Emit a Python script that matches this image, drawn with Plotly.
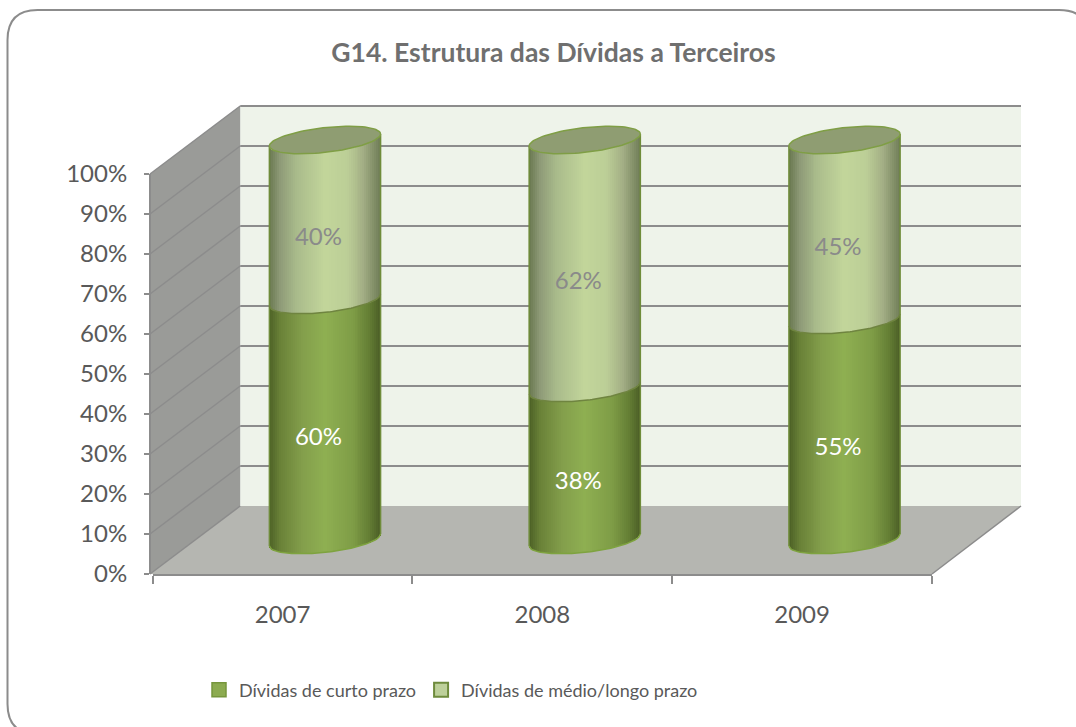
import numpy as np
import plotly.graph_objects as go

years = ["2007", "2008", "2009"]
curto = [60, 38, 55]
medio = [40, 62, 45]
y_ticks = list(range(0, 101, 10))
title = "G14. Estrutura das Dívidas a Terceiros"
name_curto = "Dívidas de curto prazo"
name_medio = "Dívidas de médio/longo prazo"

W, H = 1076, 727
FONT = "Lato"
GREY = "#8c8c8c"
TXT = "#595959"

def px(x): return x / W
def py(y): return 1 - y / H

# front plane / cylinder plane / back wall, in pixels
FX0, FX1, FY0, FY1 = 152.7, 932.0, 574.0, 174.0
DX, DY = 87.5, -68.0          # depth of the box
MX, MY = 42.4, -34.0          # depth of the cylinder centres
CYL_HALF = 55.6 / ((FX1 - FX0) / 3)
ELL_B = 3.1                   # ellipse half height in % units
ELL_K = 1.5                   # ellipse tilt in % units
PAD = 10                      # room round the cylinder axis, in % units
LABEL_DROP = 1.75             # data labels sit below the segment middle, in % units
N = 56


def ramp(t, stops):
    ts = [s[0] for s in stops]
    return "rgb(%d,%d,%d)" % tuple(np.interp(t, ts, [s[1][i] for s in stops]) for i in range(3))


DARK_STOPS = [(0, (76, 96, 38)), (.1, (106, 130, 56)), (.3, (132, 159, 76)), (.5, (143, 176, 82)),
              (.75, (127, 157, 71)), (.9, (101, 127, 53)), (1, (76, 95, 39))]
LIGHT_STOPS = [(0, (105, 120, 80)), (.1, (143, 155, 120)), (.25, (170, 188, 140)), (.5, (195, 214, 155)),
               (.7, (188, 207, 151)), (.85, (163, 174, 133)), (1, (112, 126, 88))]

us = (np.arange(N) + .5) / N * 2 - 1
ts = (us + 1) / 2


def low(u): return ELL_K * u - ELL_B * np.sqrt(np.clip(1 - u * u, 0, 1))


fig = go.Figure()

# category axis and legend entries
fig.add_trace(go.Scatter(x=years, y=[None] * 3, mode="markers", name=name_curto, xaxis="x", yaxis="y",
                         marker=dict(symbol="square", size=14, color="#8cab50", line=dict(color="#76963c", width=1.5))))
fig.add_trace(go.Scatter(x=years, y=[None] * 3, mode="markers", name=name_medio, xaxis="x", yaxis="y",
                         marker=dict(symbol="square", size=14, color="#bdd09a", line=dict(color="#6e8b3c", width=2))))

# cylinders as thin bars
bx, lb, lh, lc, ub, uh, uc = [], [], [], [], [], [], []
for i in range(len(years)):
    for u, t in zip(us, ts):
        bx.append(i + u * CYL_HALF)
        lb.append(float(low(u)))
        lh.append(curto[i])
        lc.append(ramp(t, DARK_STOPS))
        ub.append(curto[i] + float(low(u)))
        uh.append(medio[i])
        uc.append(ramp(t, LIGHT_STOPS))
bw = 2 * CYL_HALF / N * 1.15
fig.add_trace(go.Bar(x=bx, y=lh, base=lb, width=bw, marker=dict(color=lc, line_width=0),
                     xaxis="x2", yaxis="y2", showlegend=False, hoverinfo="skip"))
fig.add_trace(go.Bar(x=bx, y=uh, base=ub, width=bw, marker=dict(color=uc, line_width=0),
                     xaxis="x2", yaxis="y2", showlegend=False, hoverinfo="skip"))

# top ellipses, rims and sides
ang = np.linspace(0, 2 * np.pi, 91)
ex, ey, rx, ry, bnx, bny, sx, sy = [], [], [], [], [], [], [], []
arc = np.linspace(-1, 1, 61)
for i in range(len(years)):
    total = curto[i] + medio[i]
    ex += list(i + CYL_HALF * np.cos(ang)) + [None]
    ey += list(total + ELL_K * np.cos(ang) + ELL_B * np.sin(ang)) + [None]
    rx += list(i + CYL_HALF * arc) + [None]
    ry += list(low(arc)) + [None]
    bnx += list(i + CYL_HALF * arc) + [None]
    bny += list(curto[i] + low(arc)) + [None]
    for side in (-1, 1):
        sx += [i + side * CYL_HALF, i + side * CYL_HALF, None]
        sy += [side * ELL_K, total + side * ELL_K, None]

fig.add_trace(go.Scatter(x=sx, y=sy, mode="lines", line=dict(color="#6f8c3a", width=1.5),
                         xaxis="x2", yaxis="y2", showlegend=False, hoverinfo="skip"))
fig.add_trace(go.Scatter(x=rx, y=ry, mode="lines", line=dict(color="#7ea33f", width=1.5),
                         xaxis="x2", yaxis="y2", showlegend=False, hoverinfo="skip"))
fig.add_trace(go.Scatter(x=bnx, y=bny, mode="lines", line=dict(color="#6f8440", width=1.5),
                         xaxis="x2", yaxis="y2", showlegend=False, hoverinfo="skip"))
fig.add_trace(go.Scatter(x=ex, y=ey, mode="lines", fill="toself", fillcolor="#8f9d72",
                         line=dict(color="#7f9e45", width=1.5),
                         xaxis="x2", yaxis="y2", showlegend=False, hoverinfo="skip"))

# data labels
lab_x = [i - 0.025 for i in range(len(years))]
fig.add_trace(go.Scatter(x=lab_x, y=[v / 2 - LABEL_DROP for v in curto], mode="text", text=[f"{v}%" for v in curto],
                         textposition="bottom center", textfont=dict(family=FONT, size=24, color="white"),
                         xaxis="x2", yaxis="y2", showlegend=False, hoverinfo="skip"))
fig.add_trace(go.Scatter(x=lab_x, y=[c + m / 2 - LABEL_DROP for c, m in zip(curto, medio)], mode="text",
                         text=[f"{v}%" for v in medio], textposition="bottom center",
                         textfont=dict(family=FONT, size=24, color="#8a8a8a"),
                         xaxis="x2", yaxis="y2", showlegend=False, hoverinfo="skip"))


def poly(points, fill):
    d = "M " + " L ".join(f"{px(x):.5f},{py(y):.5f}" for x, y in points) + " Z"
    return dict(type="path", path=d, xref="paper", yref="paper", fillcolor=fill,
                line=dict(width=0), layer="below")


def seg(x0, y0, x1, y1, width=2):
    return dict(type="line", xref="paper", yref="paper", x0=px(x0), y0=py(y0), x1=px(x1), y1=py(y1),
                line=dict(color=GREY, width=width), layer="below")


# card
cx0, cy0, cx1, cy1, r = 7.5, 10, 1089, 734, 30
card = (f"M {px(cx0 + r)},{py(cy0)} L {px(cx1 - r)},{py(cy0)} Q {px(cx1)},{py(cy0)} {px(cx1)},{py(cy0 + r)} "
        f"L {px(cx1)},{py(cy1 - r)} Q {px(cx1)},{py(cy1)} {px(cx1 - r)},{py(cy1)} "
        f"L {px(cx0 + r)},{py(cy1)} Q {px(cx0)},{py(cy1)} {px(cx0)},{py(cy1 - r)} "
        f"L {px(cx0)},{py(cy0 + r)} Q {px(cx0)},{py(cy0)} {px(cx0 + r)},{py(cy0)} Z")
shapes = [dict(type="path", path=card, xref="paper", yref="paper", fillcolor="white",
               line=dict(color=GREY, width=2), layer="below")]

BX0, BX1 = FX0 + DX, 1021.0
BY0, BY1 = FY0 + DY, FY1 + DY
AX = 150.0
shapes.append(poly([(BX0, BY0), (BX1, BY0), (BX1, BY1), (BX0, BY1)], "#eef3ea"))
shapes.append(poly([(AX, FY0), (BX0, BY0), (BX0, BY1), (AX, FY1)], "#9a9b98"))
shapes.append(poly([(AX, FY0), (BX0, BY0), (BX1, BY0), (FX1, FY0)], "#b5b6b1"))
for v in y_ticks:
    fy = FY0 + (FY1 - FY0) * v / 100
    by = BY0 + (BY1 - BY0) * v / 100
    shapes.append(seg(AX, fy, BX0, by, 1.5))
    if v > 0:
        shapes.append(seg(BX0, by, BX1, by, 2))
shapes.append(seg(FX1, FY0, BX1, BY0, 1.5))

pad_px = PAD * (FY0 - FY1) / 100
fig.update_layout(
    width=W, height=H, autosize=False, margin=dict(l=0, r=0, t=0, b=0, autoexpand=False),
    paper_bgcolor="white", plot_bgcolor="rgba(0,0,0,0)", barmode="overlay", bargap=0,
    font=dict(family=FONT, color=TXT),
    title=dict(text=f"<b>{title}</b>", x=553.5 / W, xanchor="center", y=py(53), yanchor="middle",
               font=dict(family=FONT, size=26.5, color="#6f6f6f")),
    xaxis=dict(type="category", categoryorder="array", categoryarray=years, range=[-.5, 2.5], domain=[px(FX0), px(FX1)],
               anchor="y", tickson="boundaries", ticks="outside", ticklen=8, tickwidth=2, tickcolor=GREY,
               showline=True, linecolor=GREY, linewidth=2, showgrid=False, zeroline=False,
               tickfont=dict(family=FONT, size=24, color=TXT), ticklabelstandoff=18, fixedrange=True),
    yaxis=dict(range=[0, 100], domain=[py(FY0), py(FY1)], tickvals=y_ticks, ticktext=[f"{v}%" for v in y_ticks],
               anchor="free", position=px(AX), ticks="outside", ticklen=5, tickwidth=2, tickcolor=GREY,
               showline=True, linecolor=GREY, linewidth=2, showgrid=False, zeroline=False,
               tickfont=dict(family=FONT, size=24, color=TXT), ticklabelstandoff=12, fixedrange=True),
    xaxis2=dict(range=[-.5, 2.5], domain=[px(FX0 + MX), px(FX1 + MX)], anchor="y2", visible=False, fixedrange=True),
    yaxis2=dict(range=[-PAD, 100 + PAD], domain=[py(FY0 + MY + pad_px), py(FY1 + MY - pad_px)], anchor="x2",
                visible=False, fixedrange=True),
    legend=dict(orientation="h", x=199 / W, xanchor="left", y=py(690), yanchor="middle",
                font=dict(family=FONT, size=18, color=TXT), bgcolor="rgba(0,0,0,0)", itemclick=False,
                itemdoubleclick=False),
    shapes=shapes,
)

fig.write_html("out.html", config={"displayModeBar": False}, post_script="document.body.style.margin='0';")
